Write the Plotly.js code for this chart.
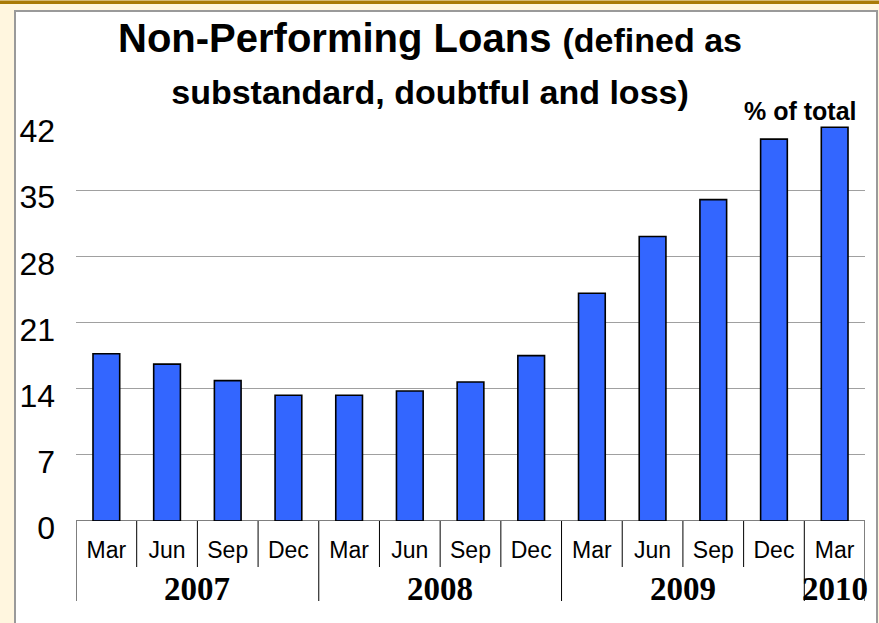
<!DOCTYPE html>
<html>
<head>
<meta charset="utf-8">
<script src="https://cdn.plot.ly/plotly-3.0.1.min.js"></script>
<style>
  html, body { margin: 0; padding: 0; background: #FFF6DF; }
  #chart { width: 879px; height: 623px; }
</style>
</head>
<body>
<div id="chart"></div>
<script>
// ---- data ----
const months = ['Mar', 'Jun', 'Sep', 'Dec', 'Mar', 'Jun', 'Sep', 'Dec', 'Mar', 'Jun', 'Sep', 'Dec', 'Mar'];
const periodYears = ['2007', '2007', '2007', '2007', '2008', '2008', '2008', '2008', '2009', '2009', '2009', '2009', '2010'];
const npl = [17.7, 16.6, 14.85, 13.3, 13.3, 13.75, 14.7, 17.5, 24.1, 30.1, 34.0, 40.4, 41.65];
const yearLabels = ['2007', '2008', '2009', '2010'];
const yTicks = [0, 7, 14, 21, 28, 35, 42];

// ---- derived ----
const categories = months.map((m, i) => m + ' ' + periodYears[i]);

// year group boundaries (as category index positions)
const yearStart = yearLabels.map(y => periodYears.indexOf(y));
const yearEnd = yearLabels.map(y => periodYears.lastIndexOf(y));

// pixel <-> paper helpers (plot area: l=76, r=14, t=124, b=102)
const W = 879, H = 623, L = 76, R = 14, T = 124, B = 102;
const PW = W - L - R, PH = H - T - B;
const px = x => (x - L) / PW;
const py = y => (H - B - y) / PH;

const shapes = [];
// cream background strips & white panel
shapes.push({type: 'rect', xref: 'paper', yref: 'paper', layer: 'below',
  x0: px(0), x1: px(W), y0: py(H + 5), y1: py(-5),
  fillcolor: '#FFF6DF', line: {width: 0}});
shapes.push({type: 'rect', xref: 'paper', yref: 'paper', layer: 'below',
  x0: px(-5), x1: px(W + 5), y0: py(4), y1: py(0.5),
  fillcolor: '#A97A06', line: {width: 0}});
shapes.push({type: 'rect', xref: 'paper', yref: 'paper', layer: 'below',
  x0: px(15), x1: px(877), y0: py(H + 10), y1: py(11),
  fillcolor: '#FFFFFF', line: {color: '#9A9A9A', width: 2}});

// baseline
shapes.push({type: 'line', xref: 'x', yref: 'y', x0: -0.5, x1: categories.length - 0.5, y0: 0, y1: 0,
  line: {color: '#000', width: 1.2}});
// month separators (longer at year boundaries)
const yearBounds = new Set();
yearStart.forEach(s => yearBounds.add(s - 0.5));
yearEnd.forEach(e => yearBounds.add(e + 0.5));
for (let i = 0; i <= categories.length; i++) {
  const xb = i - 0.5;
  const long = yearBounds.has(xb);
  shapes.push({type: 'line', xref: 'x', yref: 'paper', x0: xb, x1: xb,
    y0: 0, y1: py(long ? 601 : 567),
    line: {color: '#000', width: 1}});
}

const annotations = yearLabels.map((y, k) => ({
  xref: 'x', yref: 'paper',
  x: (yearStart[k] + yearEnd[k]) / 2, y: py(589),
  text: '<b>' + y + '</b>', showarrow: false,
  xanchor: 'center', yanchor: 'middle',
  font: {family: 'Liberation Serif, Times New Roman, serif', size: 33, color: '#000'}
}));
annotations.push({
  xref: 'paper', yref: 'paper', x: px(859), y: py(127),
  xanchor: 'right', yanchor: 'bottom', showarrow: false,
  text: '<b>% of total</b>',
  font: {family: 'Liberation Sans, Arial, sans-serif', size: 25, color: '#000'}
});

const trace = {
  type: 'bar',
  x: categories,
  y: npl,
  width: 0.44,
  marker: {color: '#3366FF', line: {color: '#000', width: 1.6}},
  hoverinfo: 'x+y'
};

const layout = {
  width: W, height: H,
  margin: {l: L, r: R, t: T, b: B, pad: 0},
  paper_bgcolor: '#FFF6DF',
  plot_bgcolor: 'rgba(0,0,0,0)',
  showlegend: false,
  font: {family: 'Liberation Sans, Arial, sans-serif', color: '#000'},
  title: {
    text: '<b>Non-Performing Loans <span style="font-size:34px">(defined as</span></b><br><b><span style="font-size:34px">substandard, doubtful and loss)</span></b>',
    font: {family: 'Liberation Sans, Arial, sans-serif', size: 40, color: '#000'},
    xref: 'paper', x: px(430), xanchor: 'center',
    yref: 'container', y: 1 - 52 / H, yanchor: 'top'
  },
  xaxis: {
    type: 'category',
    range: [-0.5, categories.length - 0.5],
    tickmode: 'array',
    tickvals: categories,
    ticktext: months,
    ticks: '',
    showgrid: false,
    showline: false,
    zeroline: false,
    tickfont: {family: 'Liberation Sans, Arial, sans-serif', size: 23, color: '#000'},
    ticklabelstandoff: 13,
    fixedrange: true
  },
  yaxis: {
    range: [0, 42],
    tickmode: 'array',
    tickvals: yTicks,
    ticktext: yTicks.map(String),
    ticks: '',
    showgrid: true,
    gridcolor: '#A0A0A0',
    gridwidth: 1,
    zeroline: false,
    showline: false,
    tickfont: {family: 'Liberation Sans, Arial, sans-serif', size: 32, color: '#000'},
    ticklabelstandoff: 20,
    ticklabelshift: 7,
    fixedrange: true
  },
  shapes: shapes,
  annotations: annotations
};

Plotly.newPlot('chart', [trace], layout, {displayModeBar: false, staticPlot: true});
</script>
</body>
</html>
